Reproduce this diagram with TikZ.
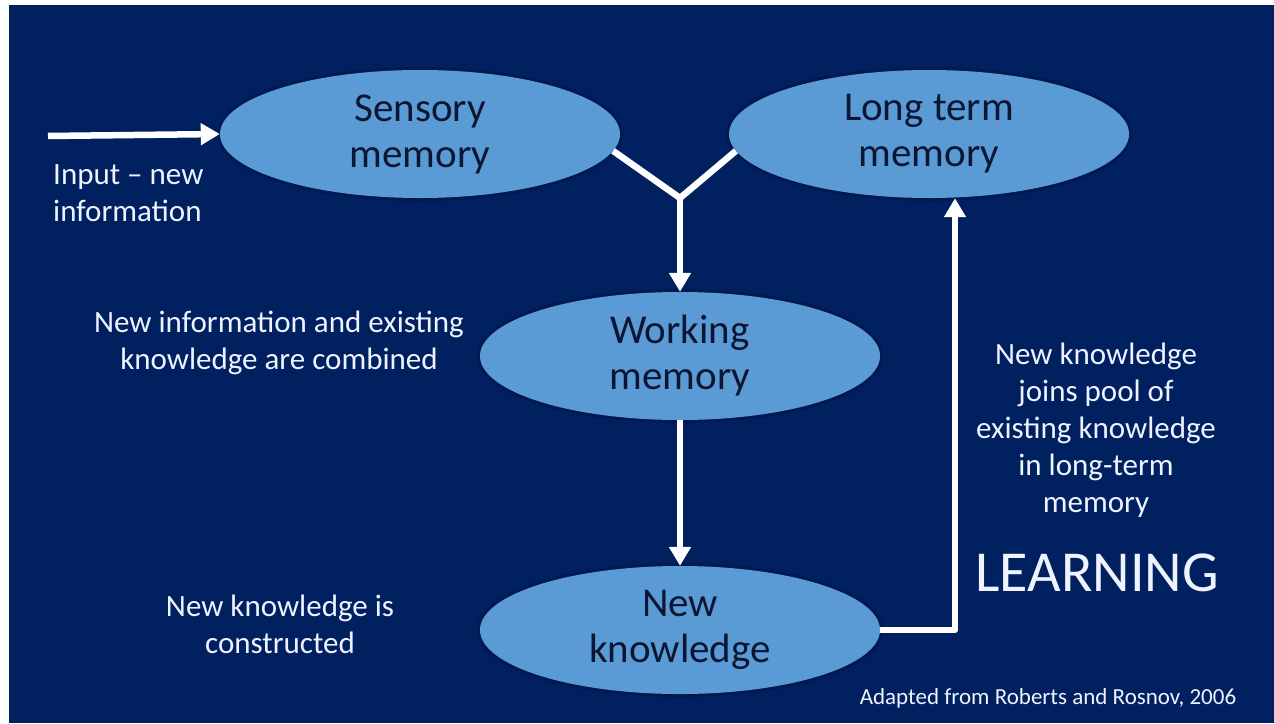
\documentclass[tikz,border=0pt]{standalone}
\usepackage{fontspec}
\setmainfont{Carlito}
\usetikzlibrary{shapes.geometric,arrows.meta}
\definecolor{slidebg}{HTML}{002060}
\definecolor{bubblefill}{HTML}{5B9BD5}
\definecolor{bubbletext}{HTML}{0B1633}
\definecolor{halo}{HTML}{001640}
\definecolor{notetext}{HTML}{EEF3FF}

\begin{document}
\begin{tikzpicture}[x=1pt,y=-1pt,
  bubble/.style={ellipse, fill=bubblefill, minimum width=400pt, minimum height=128pt,
    inner sep=0pt, align=center, text=bubbletext, font=\fontsize{41}{46}\selectfont,
    preaction={draw=halo, line width=6pt, opacity=0.5}},
  note/.style={text=notetext, align=center, font=\fontsize{31}{37}\selectfont, inner sep=0pt},
  link/.style={draw=white, line width=6.5pt, line join=round},
  arrow/.style={link, -{Triangle[width=21pt,length=19pt]}},
]
% slide background with thin white edge at top and left
\useasboundingbox (0,0) rectangle (1274,723);
\fill[white] (0,0) rectangle (1274,723);
\fill[slidebg] (9,5) rectangle (1274,723);

% memory stages
\node[bubble] (sens) at (420,134) {Sensory\\memory};
\node[bubble] (ltm)  at (929,134) {Long term\\memory};
\node[bubble] (work) at (680,356) {Working\\memory};
\node[bubble] (newk) at (680,630) {New\\knowledge};

% helper points for the connectors
\coordinate (inp) at (48,136);
\coordinate (yj)  at (680,198);
\coordinate (fb)  at (955,630);

% connectors
\draw[arrow] (inp) -- (sens.west);
\draw[link] (sens.-5) -- (yj) -- (ltm.185);
\draw[arrow] (yj) -- (work.north);
\draw[arrow] (work.south) -- (newk.north);
\draw[arrow] (newk.east) -- (fb) -- (ltm.south -| fb);

% annotations
\node[note, align=left, anchor=west] (input) at (53,193) {Input – new\\information};
\node[note] (combine) at (279,343) {New information and existing\\knowledge are combined};
\node[note] (construct) at (280,624) {New knowledge is\\constructed};
\node[note] (joins) at (1096,430) {New knowledge\\joins pool of\\existing knowledge\\in long-term\\memory};
\node[note, font=\fontsize{58}{66}\selectfont] (learning) at (1097,573) {LEARNING};
\node[note, font=\fontsize{23}{28}\selectfont] (credit) at (1048,698) {Adapted from Roberts and Rosnov, 2006};
\end{tikzpicture}
\end{document}
